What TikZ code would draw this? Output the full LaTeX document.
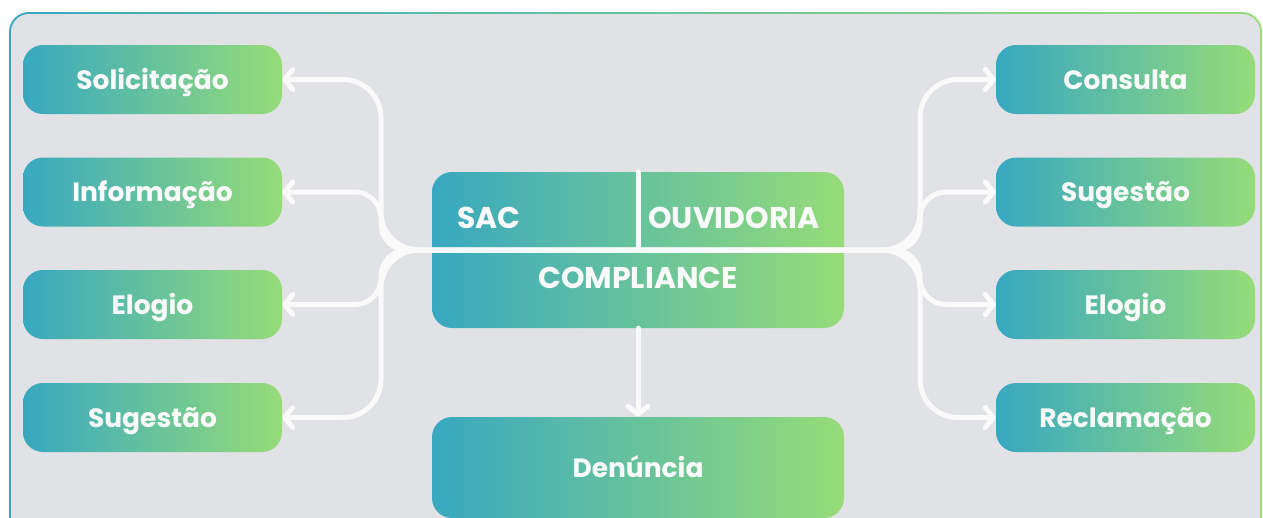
\documentclass[tikz,border=0pt]{standalone}
\usepackage{fontspec}
\setmainfont{Poppins}
\usetikzlibrary{arrows.meta}
\definecolor{cA}{HTML}{38A8C0}
\definecolor{cB}{HTML}{96DC78}
\definecolor{bgc}{HTML}{E1E2E6}
\definecolor{wline}{HTML}{FAFAFA}
\tikzset{
  box/.style={rounded corners=20pt, left color=cA, right color=cB, draw=none,
    minimum width=259pt, minimum height=69pt, inner sep=0pt,
    text height=19pt, text depth=0pt,
    text=wline, font=\fontsize{26.5}{30}\selectfont\bfseries},
  lbl/.style={text=wline, font=\fontsize{30}{34}\selectfont\bfseries, inner sep=0pt,
    text height=21pt, text depth=0pt},
  conn/.style={draw=wline, line width=5pt, line cap=round, line join=round},
  tip/.style={-{Straight Barb[length=8pt,width=20pt,round]}}
}
\begin{document}
\begin{tikzpicture}[x=1pt,y=-1pt]
\useasboundingbox (0,0) rectangle (1263,517);
\begin{scope}
\clip (0,0) rectangle (1263,517);
% frame
\shade[left color=cA, right color=cB, rounded corners=20pt] (9,12) rectangle (1262,560);
\fill[bgc, rounded corners=18pt] (11,14) rectangle (1260,560);
% left boxes
\node[box] (sol) at (152.5,79.5) {Solicitação};
\node[box] (inf) at (152.5,192) {Informação};
\node[box] (elo) at (152.5,304.5) {Elogio};
\node[box] (sugl) at (152.5,417.5) {Sugestão};
% right boxes
\node[box] (con) at (1125.5,79.5) {Consulta};
\node[box] (sugr) at (1125.5,192) {Sugestão};
\node[box] (elr) at (1125.5,304.5) {Elogio};
\node[box] (rec) at (1125.5,417.5) {Reclamação};
% center
\node[box, minimum width=412pt, minimum height=156pt] (ctr) at (638,250) {};
\node[box, minimum width=412pt, minimum height=101pt] (den) at (638,467.5) {Denúncia};
\coordinate (hub) at (638,250);
\coordinate (lt) at (381,250);
\coordinate (rt) at (920,250);
% connectors
\draw[conn] (ctr.north) -- (hub);
\draw[conn, tip, rounded corners=38pt] (hub) -- (lt) -- (lt |- sol.east) -- (sol.east);
\draw[conn, tip, rounded corners=26pt] (hub) -- (lt) -- (lt |- inf.east) -- (inf.east);
\draw[conn, tip, rounded corners=26pt] (hub) -- (lt) -- (lt |- elo.east) -- (elo.east);
\draw[conn, tip, rounded corners=38pt] (hub) -- (lt) -- (lt |- sugl.east) -- (sugl.east);
\draw[conn, tip, rounded corners=38pt] (hub) -- (rt) -- (rt |- con.west) -- (con.west);
\draw[conn, tip, rounded corners=26pt] (hub) -- (rt) -- (rt |- sugr.west) -- (sugr.west);
\draw[conn, tip, rounded corners=26pt] (hub) -- (rt) -- (rt |- elr.west) -- (elr.west);
\draw[conn, tip, rounded corners=38pt] (hub) -- (rt) -- (rt |- rec.west) -- (rec.west);
\draw[conn, tip] (ctr.south) -- (den.north);
% labels in center box
\node[lbl] (sac) at (489,218) {SAC};
\node[lbl] (ouv) at (734,218) {OUVIDORIA};
\node[lbl] (cmp) at (638,278) {COMPLIANCE};
\end{scope}
\end{tikzpicture}
\end{document}
